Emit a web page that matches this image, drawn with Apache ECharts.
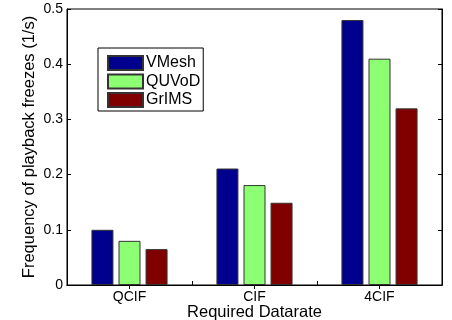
<!DOCTYPE html>
<html><head><meta charset="utf-8">
<script src="https://cdn.jsdelivr.net/npm/echarts@6/dist/echarts.min.js"></script>
<style>html,body{margin:0;padding:0;background:#fff}#c{width:452px;height:320px}</style>
</head><body><div id="c"></div>
<script>
const categories = ['QCIF', 'CIF', '4CIF'];
const seriesNames = ['VMesh', 'QUVoD', 'GrIMS'];
const vmesh = [0.100, 0.211, 0.480];
const quvod = [0.080, 0.181, 0.410];
const grims = [0.065, 0.149, 0.320];
const yTicks = [0, 0.1, 0.2, 0.3, 0.4, 0.5];
const colors = ['#00008F', '#8CFF73', '#800000'];

const font = 'Liberation Sans, Arial, sans-serif';
const chart = echarts.init(document.getElementById('c'), null, {renderer: 'canvas'});
const values = [vmesh, quvod, grims];
chart.setOption({
  animation: false,
  grid: {left: 67, right: 10, top: 9, bottom: 35, show: true, borderColor: '#000', borderWidth: 1,
    outerBoundsMode: 'none', containLabel: false},
  legend: {
    orient: 'vertical', left: 98, top: 48,
    data: seriesNames,
    icon: 'rect', itemWidth: 35, itemHeight: 14, itemGap: 2.5,
    padding: [7, 3, 3, 9],
    borderColor: '#000', borderWidth: 1, backgroundColor: '#fff',
    textStyle: {fontFamily: font, fontSize: 16, lineHeight: 16, color: '#000', padding: [0, 0, 0, -2]}
  },
  xAxis: [{
    type: 'category', data: categories,
    name: 'Required Datarate', nameLocation: 'middle', nameGap: 19, nameMoveOverlap: false,
    nameTextStyle: {fontFamily: font, fontSize: 16.5, color: '#000'},
    axisLine: {lineStyle: {color: '#000'}},
    axisTick: {show: true, inside: true, length: 4, lineStyle: {color: '#000'}},
    axisLabel: {fontFamily: font, fontSize: 14, color: '#000', margin: 5}
  }, {
    type: 'category', data: categories, position: 'top',
    axisLine: {lineStyle: {color: '#000'}},
    axisTick: {show: true, inside: true, length: 4, alignWithLabel: true, lineStyle: {color: '#000'}},
    axisLabel: {show: false}
  }],
  yAxis: [{
    type: 'value', min: 0, max: 0.5, interval: 0.1,
    name: 'Frequency of playback freezes (1/s)', nameLocation: 'middle', nameGap: 29, nameMoveOverlap: false,
    nameTextStyle: {fontFamily: font, fontSize: 16.5, color: '#000'},
    axisLine: {show: true, lineStyle: {color: '#000'}},
    axisTick: {show: true, inside: true, length: 4, lineStyle: {color: '#000'}},
    splitLine: {show: false},
    axisLabel: {fontFamily: font, fontSize: 14, color: '#000', margin: 4,
      formatter: v => { const t = yTicks.find(x => Math.abs(x - v) < 1e-9); return t === 0 ? '0' : String(t); }}
  }, {
    type: 'value', min: 0, max: 0.5, interval: 0.1, position: 'right',
    axisLine: {show: true, lineStyle: {color: '#000'}},
    axisTick: {show: true, inside: true, length: 4, lineStyle: {color: '#000'}},
    splitLine: {show: false}, axisLabel: {show: false}
  }],
  series: seriesNames.map((n, i) => ({
    name: n, type: 'bar', data: values[i], barWidth: 22, barGap: '23%',
    itemStyle: {color: colors[i], borderColor: '#333', borderWidth: 1}
  }))
});
</script></body></html>
